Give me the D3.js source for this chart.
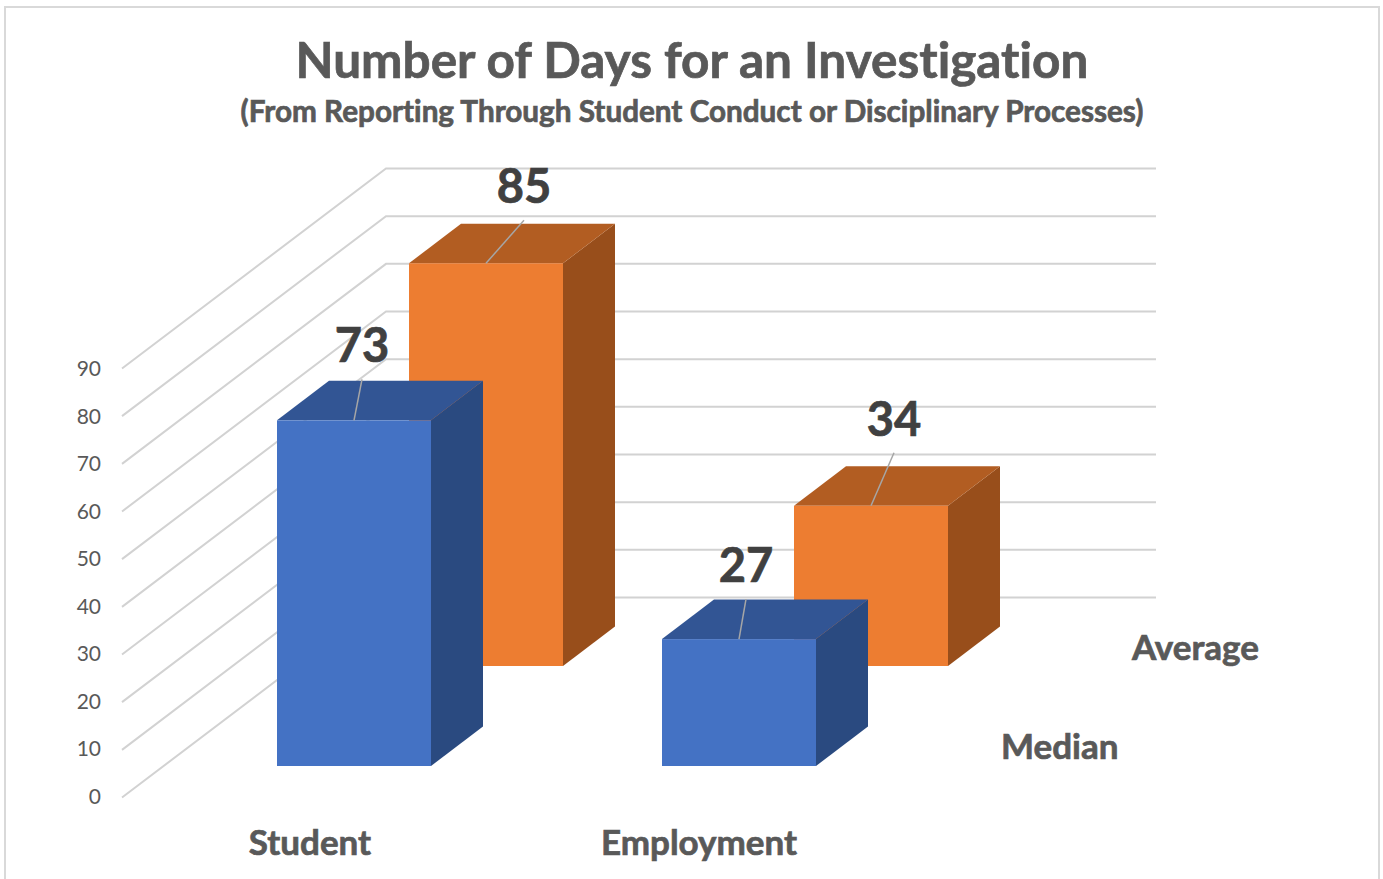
<!DOCTYPE html>
<html>
<head>
<meta charset="utf-8">
<script src="https://cdn.jsdelivr.net/npm/d3@7"></script>
<style>
html,body{margin:0;padding:0;background:#fff;overflow:hidden}
text{font-family:Lato,"Open Sans",sans-serif;font-variant-ligatures:none;font-feature-settings:"liga" 0,"clig" 0}
.heavy{stroke-width:0.7px;paint-order:stroke}
</style>
</head>
<body>
<svg id="c" width="1383" height="879"></svg>
<script>
const categories = ["Student", "Employment"];
const seriesNames = ["Median", "Average"];
const medianValues = [73, 27];
const averageValues = [85, 34];
const yTicks = [0, 10, 20, 30, 40, 50, 60, 70, 80, 90];
const titleText = "Number of Days for an Investigation";
const subtitleText = "(From Reporting Through Student Conduct or Disciplinary Processes)";

// layout
const wallDX = 264, wallDY = -200;            // front-to-back wall offset
const barDX = 52, barDY = -39.5;              // bar depth
const faceW = 154;
const catX = d3.scalePoint().domain(categories).range([277, 662]);
const seriesDX = d3.scalePoint().domain(seriesNames).range([0, 132]);
const seriesBase = d3.scalePoint().domain(seriesNames).range([766, 666]);
const yFront = d3.scaleLinear().domain([0, 90]).range([797.5, 368.5]);
const yHeight = d3.scaleLinear().domain([0, 90]).range([-1.5, 426.5]);
const tickY = d3.scaleLinear().domain([0, 90]).range([796.5, 369]);
const colors = {
  Median: {front: "#4472C4", top: "#325594", side: "#2A4A80"},
  Average: {front: "#ED7D31", top: "#B25D22", side: "#984E1B"}
};
// label layout: leader end offset from top of front face, by series & category
const leaderOffsets = {
  "Median|Student": [8, -41], "Median|Employment": [7, -40],
  "Average|Student": [38, -43], "Average|Employment": [23, -53]
};

const svg = d3.select("#c");
const heavy = (sel, col) => sel.classed("heavy", true).attr("stroke", col).attr("fill", col);

// chart frame
svg.append("rect").attr("x", 5).attr("y", 7).attr("width", 1374).attr("height", 890)
  .attr("fill", "#fff").attr("stroke", "#d9d9d9").attr("stroke-width", 2);

// gridlines
const grid = svg.append("g").attr("fill", "none").attr("stroke", "#d2d2d2").attr("stroke-width", 2);
grid.selectAll("path").data(yTicks).join("path").attr("d", t => {
  const p = d3.path();
  const y = yFront(t);
  p.moveTo(122, y);
  p.lineTo(122 + wallDX, y + wallDY);
  p.lineTo(1156, y + wallDY);
  return p.toString();
});

// y tick labels
svg.append("g").selectAll("text").data(yTicks).join("text")
  .attr("x", 101).attr("y", t => tickY(t)).attr("dy", "0.35em")
  .attr("text-anchor", "end").attr("font-size", 21).attr("fill", "#595959")
  .text(d => d);

// bars
const rows = [];
seriesNames.slice().reverse().forEach(s => {
  const vals = s === "Median" ? medianValues : averageValues;
  categories.forEach((c, i) => rows.push({s, c, v: vals[i]}));
});

const poly = pts => "M" + pts.map(p => p.join(",")).join("L") + "Z";
const bars = svg.append("g").selectAll("g").data(rows).join("g");
bars.each(function (d) {
  const g = d3.select(this);
  const x0 = catX(d.c) + seriesDX(d.s), x1 = x0 + faceW;
  const yb = seriesBase(d.s), yt = yb - yHeight(d.v);
  const col = colors[d.s];
  g.append("path").attr("fill", col.side)
    .attr("d", poly([[x1, yb], [x1 + barDX, yb + barDY], [x1 + barDX, yt + barDY], [x1, yt]]));
  g.append("path").attr("fill", col.top)
    .attr("d", poly([[x0, yt], [x0 + barDX, yt + barDY], [x1 + barDX, yt + barDY], [x1, yt]]));
  g.append("rect").attr("fill", col.front)
    .attr("x", x0).attr("y", yt).attr("width", faceW).attr("height", yb - yt);
  const off = leaderOffsets[d.s + "|" + d.c];
  const cx = x0 + faceW / 2;
  g.append("line").attr("stroke", "#a6a6a6").attr("stroke-width", 1.5)
    .attr("x1", cx).attr("y1", yt).attr("x2", cx + off[0]).attr("y2", yt + off[1]);
  heavy(g.append("text").attr("x", cx + off[0]).attr("y", yt + off[1] - 17)
    .attr("text-anchor", "middle").attr("font-size", 47).attr("font-weight", 700)
    .text(d.v), "#404040");
});

// category labels
const catLabelX = d3.scalePoint().domain(categories).range([310, 699]);
heavy(svg.append("g").selectAll("text").data(categories).join("text")
  .attr("x", d => catLabelX(d)).attr("y", 855)
  .attr("text-anchor", "middle").attr("font-size", 35).attr("font-weight", 700)
  .text(d => d), "#595959");

// depth axis labels
const depthX = d3.scalePoint().domain(seriesNames).range([1001, 1132]);
const depthY = d3.scalePoint().domain(seriesNames).range([759, 660]);
heavy(svg.append("g").selectAll("text").data(seriesNames).join("text")
  .attr("x", d => depthX(d)).attr("y", d => depthY(d))
  .attr("font-size", 35).attr("font-weight", 700).text(d => d), "#595959");

// titles
heavy(svg.append("text").attr("x", 692).attr("y", 78).attr("text-anchor", "middle")
  .attr("font-size", 49.5).attr("font-weight", 700).text(titleText), "#595959");
heavy(svg.append("text").attr("x", 692).attr("y", 122).attr("text-anchor", "middle")
  .attr("font-size", 29.7).attr("font-weight", 700).text(subtitleText), "#595959");
</script>
</body>
</html>
